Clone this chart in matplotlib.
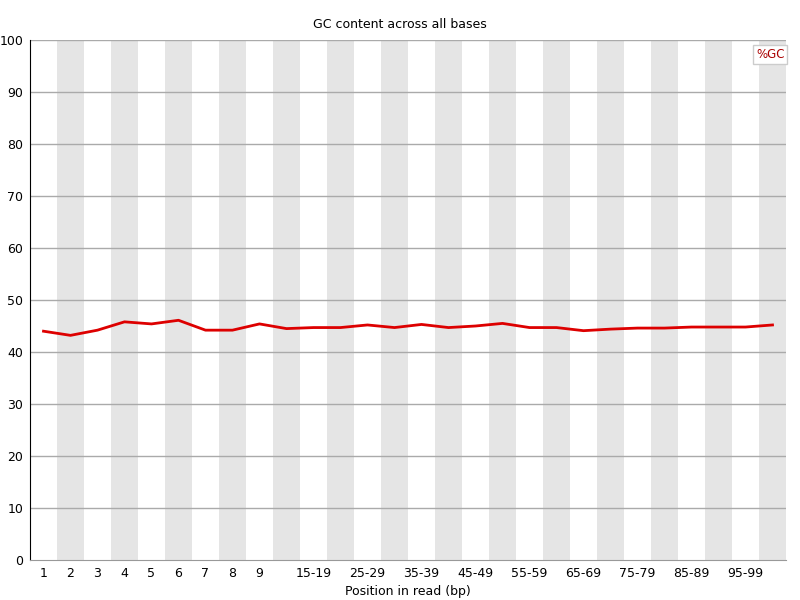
import numpy as np
import matplotlib
matplotlib.use('Agg')
import matplotlib.pyplot as plt

# positions in read (FastQC grouping)
positions = ['1', '2', '3', '4', '5', '6', '7', '8', '9',
             '10-14', '15-19', '20-24', '25-29', '30-34', '35-39', '40-44', '45-49',
             '50-54', '55-59', '60-64', '65-69', '70-74', '75-79', '80-84', '85-89',
             '90-94', '95-99', '100-101']
# labels actually drawn under the axis
shown = ['1', '2', '3', '4', '5', '6', '7', '8', '9',
         '15-19', '25-29', '35-39', '45-49', '55-59', '65-69', '75-79', '85-89', '95-99']
gc = [44.0, 43.2, 44.2, 45.8, 45.4, 46.1, 44.2, 44.2, 45.4,
      44.5, 44.7, 44.7, 45.2, 44.7, 45.3, 44.7, 45.0, 45.5,
      44.7, 44.7, 44.1, 44.4, 44.6, 44.6, 44.8, 44.8, 44.8, 45.2]
yticks = [0, 10, 20, 30, 40, 50, 60, 70, 80, 90, 100]

plt.rcParams['font.family'] = ['DejaVu Sans']
fig = plt.figure(figsize=(8, 6), dpi=100)
ax = fig.add_axes([30 / 800, 40 / 600, 756 / 800, 520 / 600])

n = len(positions)
x = np.arange(n)
for i in range(n):
    if i % 2 == 1:
        ax.axvspan(i - 0.5, i + 0.5, color='#e5e5e5', lw=0, zorder=0)

for v in yticks[1:]:
    ax.axhline(v, color='#aaaaaa', lw=1, zorder=1)

ax.plot(x, gc, color='#dd0000', lw=2, zorder=3)

ax.set_xlim(-0.5, n - 0.5)
ax.set_ylim(0, 100)
ax.set_yticks(yticks)
ax.set_yticklabels([str(v) for v in yticks], fontsize=9)
ax.set_xticks(x)
ax.set_xticklabels([p if p in shown else '' for p in positions], fontsize=9)
ax.tick_params(length=0, pad=5)
ax.tick_params(axis='y', pad=5)

for s in ['top', 'right']:
    ax.spines[s].set_visible(False)
ax.spines['left'].set_color('black')
ax.spines['bottom'].set_color('#999999')

ax.set_xlabel('Position in read (bp)', fontsize=9, labelpad=4)
fig.text(0.5, 1 - 25 / 600, 'GC content across all bases', ha='center', va='center', fontsize=9)

ax.text(0.998, 0.985, '%GC', transform=ax.transAxes, ha='right', va='top',
        fontsize=8.5, color='#aa0000', zorder=5,
        bbox=dict(boxstyle='square,pad=0.25', fc='white', ec='#cccccc', lw=1))

fig.savefig('out.png', dpi=100)
